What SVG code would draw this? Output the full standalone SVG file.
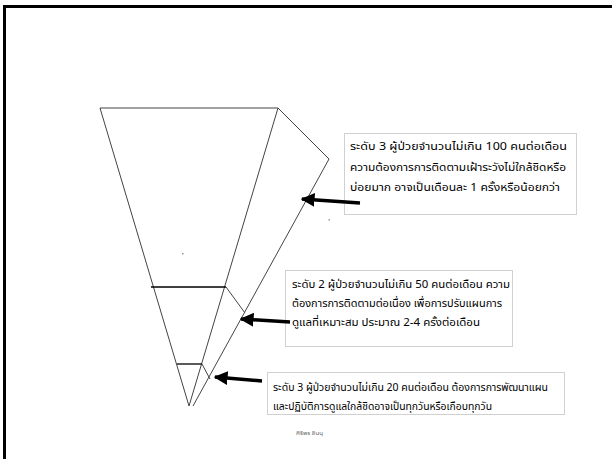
<svg xmlns="http://www.w3.org/2000/svg" width="612" height="459" viewBox="0 0 612 459">
<defs>
<style>
.edge{stroke:#444;stroke-width:1;fill:none}
.hz{stroke:#000;stroke-width:1.3;fill:none}
.box{fill:#fff;stroke:#d0d0d0;stroke-width:1}
.t{font-family:"Noto Sans Thai","Noto Serif Thai","Loma","Garuda","Norasi","DejaVu Sans","Noto Sans",sans-serif;font-size:11px;fill:#000}
.arr{stroke:#000;stroke-width:3.5;fill:none;marker-end:url(#ah)}
.dot{fill:#999}
</style>
<marker id="ah" viewBox="0 0 10 10" refX="9" refY="5" markerWidth="4" markerHeight="4" orient="auto" markerUnits="strokeWidth">
<path d="M0,0 L10,5 L0,10 Z" fill="#000"/>
</marker>
</defs>
<rect x="0" y="0" width="612" height="459" fill="#fff"/>
<rect x="4.5" y="6.5" width="640" height="480" fill="none" stroke="#000" stroke-width="3"/>
<g id="funnel">
<line class="edge" x1="100" y1="108" x2="278" y2="108"/>
<line class="edge" x1="100" y1="108" x2="189" y2="406"/>
<line class="edge" x1="278" y1="108" x2="189" y2="406"/>
<polyline class="edge" points="278,108 329,159 193,406"/>
<line class="hz" x1="151" y1="287" x2="226" y2="287"/>
<line class="edge" x1="226" y1="287" x2="245" y2="313"/>
<line class="hz" x1="177" y1="364" x2="202" y2="364"/>
<line class="edge" x1="202" y1="364" x2="210" y2="379"/>
<rect class="dot" x="182" y="253" width="1.5" height="1.5"/>
<rect class="dot" x="328.5" y="219" width="1.5" height="1.5"/>
</g>
<g id="level3-box">
<rect class="box" x="344.5" y="133.5" width="232" height="81"/>
<text class="t" x="350" y="150" textLength="217" lengthAdjust="spacingAndGlyphs">ระดับ 3 ผู้ป่วยจำนวนไม่เกิน 100 คนต่อเดือน</text>
<text class="t" x="350" y="171" textLength="216" lengthAdjust="spacingAndGlyphs">ความต้องการการติดตามเฝ้าระวังไม่ใกล้ชิดหรือ</text>
<text class="t" x="350" y="191" textLength="210" lengthAdjust="spacingAndGlyphs">บ่อยมาก อาจเป็นเดือนละ 1 ครั้งหรือน้อยกว่า</text>
</g>
<g id="level2-box">
<rect class="box" x="285.5" y="270.5" width="227" height="76"/>
<text class="t" x="292" y="288" textLength="218" lengthAdjust="spacingAndGlyphs">ระดับ 2 ผู้ป่วยจำนวนไม่เกิน 50 คนต่อเดือน ความ</text>
<text class="t" x="292" y="307" textLength="210" lengthAdjust="spacingAndGlyphs">ต้องการการติดตามต่อเนื่อง เพื่อการปรับแผนการ</text>
<text class="t" x="292" y="326" textLength="188" lengthAdjust="spacingAndGlyphs">ดูแลที่เหมาะสม ประมาณ 2-4 ครั้งต่อเดือน</text>
</g>
<g id="level1-box">
<rect class="box" x="267.5" y="372.5" width="297" height="42"/>
<text class="t" x="273" y="391" textLength="275" lengthAdjust="spacingAndGlyphs">ระดับ 3 ผู้ป่วยจำนวนไม่เกิน 20 คนต่อเดือน ต้องการการพัฒนาแผน</text>
<text class="t" x="273" y="410" textLength="219" lengthAdjust="spacingAndGlyphs">และปฏิบัติการดูแลใกล้ชิดอาจเป็นทุกวันหรือเกือบทุกวัน</text>
</g>
<g id="connectors">
<line class="arr" x1="360" y1="203" x2="302" y2="199"/>
<line class="arr" x1="290" y1="322" x2="241" y2="319"/>
<line class="arr" x1="262" y1="381" x2="215" y2="377"/>
</g>
<g id="author">
<text class="t" x="296" y="435" style="font-size:5px;fill:#666" textLength="27" lengthAdjust="spacingAndGlyphs">ศิริพร อินนุ</text>
</g>
</svg>
